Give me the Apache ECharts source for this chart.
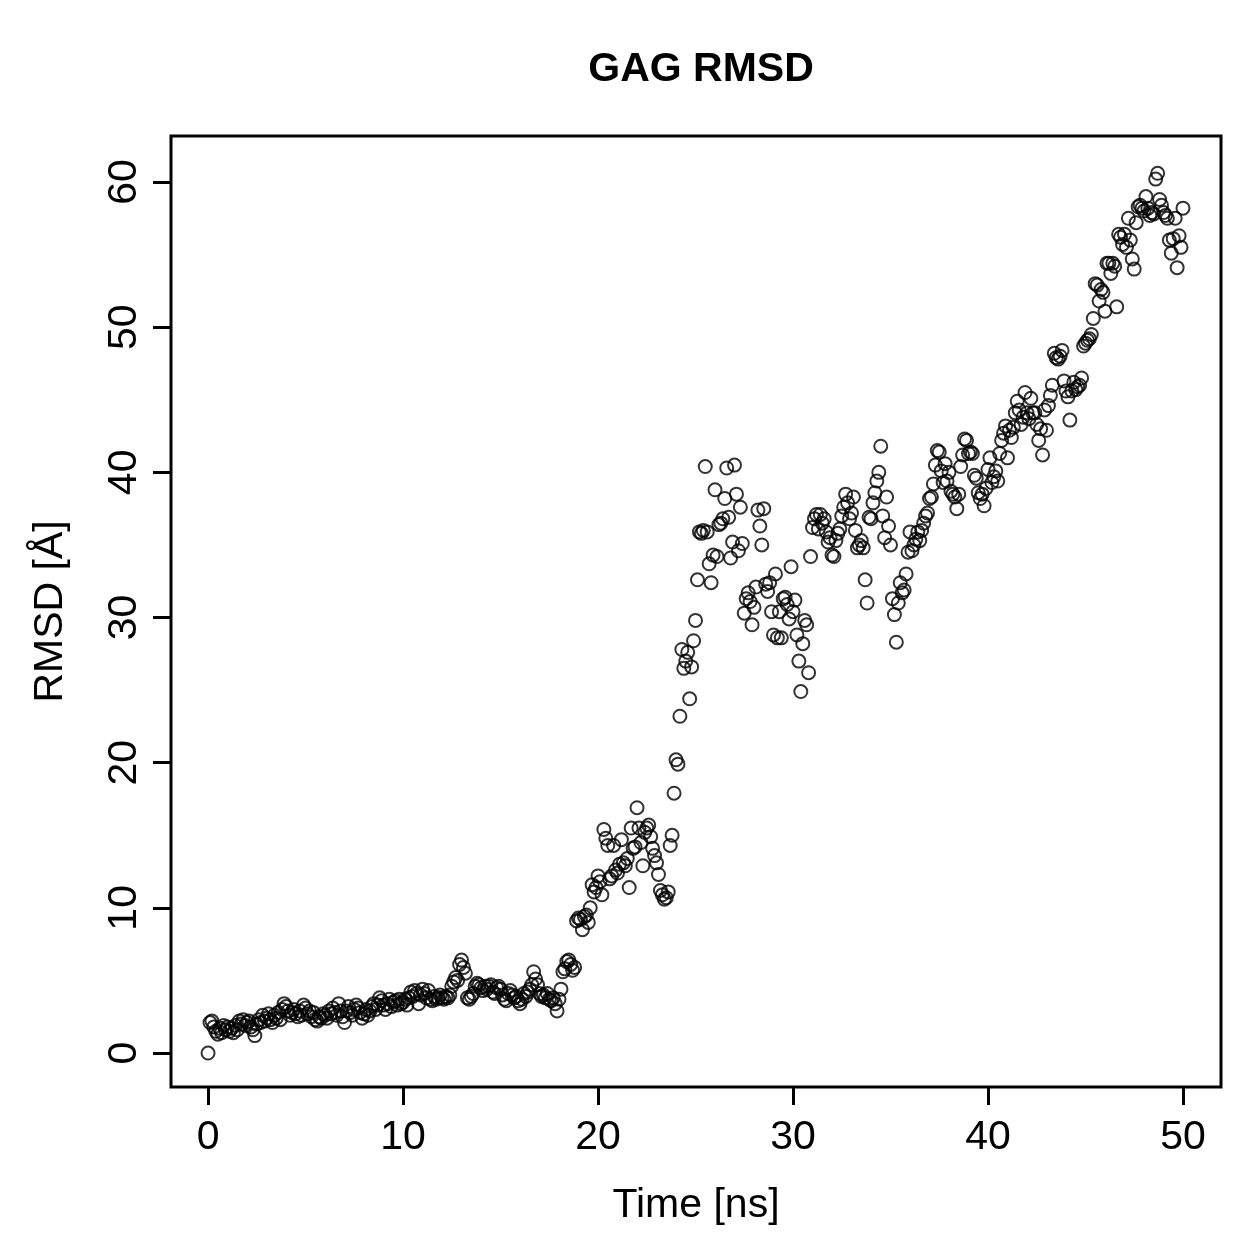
<!DOCTYPE html>
<html>
<head>
<meta charset="utf-8">
<script src="https://cdn.jsdelivr.net/npm/echarts@6/dist/echarts.min.js"></script>
<style>
  html, body { margin: 0; padding: 0; background: #fff; }
  #main { width: 1259px; height: 1259px; }
</style>
</head>
<body>
<div id="main"></div>
<script>
// RMSD trace, one value every 0.1 ns (blocks of 10 ns)
var timeStepNs = 0.1;
var rmsd0to10 = [
  0.0, 2.1, 2.2, 1.8, 1.5, 1.3, 1.7, 1.4, 1.9, 1.6,
  1.8, 1.5, 1.7, 1.4, 1.9, 1.6, 2.2, 2.0, 2.3, 1.9,
  2.1, 2.2, 1.8, 1.6, 1.2, 2.0, 2.3, 2.1, 2.6, 2.2,
  2.4, 2.7, 2.3, 2.1, 2.6, 2.4, 2.8, 2.3, 3.0, 3.4,
  3.2, 2.9, 2.6, 2.8, 3.0, 2.7, 2.5, 2.9, 2.6, 3.3,
  3.1, 2.7, 2.9, 2.5, 2.8, 2.3, 2.2, 2.5, 2.4, 2.7,
  2.6, 2.4, 2.9, 2.7, 3.1, 2.8, 2.6, 3.4, 2.9, 2.5,
  2.1, 2.9, 3.2, 2.8, 2.6, 3.0, 3.3, 3.1, 2.8, 2.4,
  2.7, 3.0, 2.6, 2.9, 3.2, 3.4, 3.0, 3.3, 3.8, 3.6,
  3.3, 3.0, 3.4, 3.7, 3.2, 3.5, 3.6, 3.3, 3.7, 3.4
];
var rmsd10to20 = [
  3.5, 3.7, 3.3, 3.8, 4.2, 3.9, 4.3, 4.1, 3.4, 4.0,
  4.4, 4.1, 3.8, 4.3, 3.7, 3.6, 3.9, 3.7, 3.8, 4.0,
  3.8, 3.7, 3.9, 3.8, 4.0, 4.6, 4.9, 5.2, 5.0, 6.1,
  6.4, 5.9, 5.5, 3.8, 3.7, 3.9, 4.1, 4.6, 4.8, 4.7,
  4.5, 4.3, 4.6, 4.4, 4.6, 4.7, 4.2, 4.1, 4.5, 4.6,
  4.4, 4.0, 3.7, 3.6, 4.1, 4.3, 4.0, 3.8, 3.9, 3.6,
  3.4, 3.7, 4.1, 3.9, 4.2, 4.4, 4.7, 5.6, 5.1, 4.7,
  4.1, 3.9, 4.0, 3.8, 4.1, 3.7, 3.6, 3.8, 3.4, 2.9,
  3.7, 4.4, 5.6, 5.8, 6.3, 6.4, 6.1, 5.7, 5.9, 9.1,
  9.3, 9.2, 8.5, 9.4, 9.5, 9.0, 10.0, 11.6, 11.1, 11.4
];
var rmsd20to30 = [
  12.2, 11.8, 10.9, 15.4, 14.8, 14.3, 12.0, 12.2, 14.3, 12.6,
  12.4, 13.0, 14.7, 13.1, 12.9, 13.4, 11.4, 15.5, 14.1, 14.2,
  16.9, 15.5, 14.5, 12.9, 15.2, 15.5, 15.7, 14.9, 14.1, 13.6,
  13.1, 12.3, 11.2, 10.9, 10.6, 10.7, 11.1, 14.3, 15.0, 17.9,
  20.2, 19.9, 23.2, 27.8, 26.5, 27.0, 27.6, 24.4, 26.6, 28.4,
  29.8, 32.6, 35.9, 35.8, 36.0, 40.4, 35.9, 33.7, 32.4, 34.3,
  38.8, 34.2, 36.4, 36.5, 36.8, 38.2, 40.3, 36.9, 34.1, 35.2,
  40.5, 38.5, 34.6, 37.6, 35.1, 30.3, 31.3, 31.7, 31.1, 29.5,
  30.7, 32.1, 37.4, 36.3, 35.0, 37.5, 32.3, 31.8, 32.4, 30.4,
  28.8, 33.0, 28.6, 30.4, 28.6, 31.3, 31.4, 30.9, 29.9, 33.5
];
var rmsd30to40 = [
  30.4, 31.2, 28.8, 27.0, 24.9, 28.2, 29.8, 29.5, 26.2, 34.2,
  36.2, 36.8, 37.1, 36.1, 37.1, 36.5, 36.8, 35.9, 35.2, 35.5,
  34.3, 34.2, 35.3, 35.8, 36.1, 37.0, 37.6, 38.5, 37.9, 36.8,
  37.2, 38.3, 36.0, 34.8, 35.0, 35.3, 34.8, 32.6, 31.0, 36.9,
  36.8, 37.9, 38.6, 39.4, 40.0, 41.8, 37.0, 35.5, 38.3, 36.3,
  35.0, 31.3, 30.2, 28.3, 31.0, 32.4, 31.7, 31.9, 33.0, 34.5,
  35.9, 34.6, 35.0, 35.4, 35.9, 35.3, 36.0, 36.5, 37.0, 37.2,
  38.2, 38.3, 39.2, 40.5, 41.5, 41.4, 40.1, 39.3, 40.6, 39.4,
  40.0, 38.7, 38.5, 38.3, 37.5, 38.5, 40.4, 41.2, 42.3, 42.2,
  41.3, 41.4, 41.3, 39.8, 39.6, 38.6, 38.2, 38.5, 37.7, 38.9
];
var rmsd40to50 = [
  40.2, 41.0, 39.3, 39.7, 40.1, 39.4, 41.3, 42.2, 42.7, 43.2,
  41.0, 42.9, 42.4, 43.1, 44.1, 44.9, 44.3, 43.3, 43.8, 45.5,
  44.1, 43.7, 45.1, 44.1, 44.1, 43.3, 42.2, 43.0, 41.2, 44.3,
  42.9, 44.6, 45.3, 46.0, 48.2, 47.9, 47.8, 48.0, 48.4, 46.3,
  45.6, 45.2, 43.6, 45.6, 46.2, 45.7, 45.9, 46.0, 46.5, 48.7,
  48.9, 49.1, 49.2, 49.5, 50.6, 53.0, 52.9, 51.8, 52.6, 52.4,
  51.1, 54.4, 54.4, 53.7, 54.4, 54.2, 51.4, 56.4, 56.2, 55.7,
  56.4, 55.5, 57.5, 56.0, 54.7, 54.0, 57.2, 58.3, 58.4, 58.2,
  58.0, 59.0, 58.2, 57.7, 57.9, 57.8, 60.2, 60.6, 58.8, 58.4,
  57.9, 57.7, 57.5, 56.0, 55.1, 56.1, 57.5, 54.1, 56.3, 55.5,
  58.2
];
var xTicks = [0, 10, 20, 30, 40, 50];
var yTicks = [0, 10, 20, 30, 40, 50, 60];

var rmsd = [].concat(rmsd0to10, rmsd10to20, rmsd20to30, rmsd30to40, rmsd40to50);
var points = rmsd.map(function(v, i){ return [+(i * timeStepNs).toFixed(1), v]; });

var FONT = 'Liberation Sans, Arial, sans-serif';
var chart = echarts.init(document.getElementById('main'), null, { renderer: 'canvas' });
chart.setOption({
  backgroundColor: '#fff',
  animation: false,
  title: {
    text: 'GAG RMSD',
    left: 696, top: 44,
    textAlign: 'center',
    textStyle: { fontFamily: FONT, fontSize: 41, fontWeight: 'bold', color: '#000' }
  },
  grid: {
    left: 171, top: 136, width: 1050, height: 951,
    show: true, borderColor: '#000', borderWidth: 3, backgroundColor: 'transparent'
  },
  xAxis: {
    type: 'value', min: -1.9, max: 51.95,
    name: 'Time [ns]', nameLocation: 'middle', nameGap: 98,
    nameTextStyle: { fontFamily: FONT, fontSize: 41, color: '#000' },
    axisLine: { show: false, onZero: false },
    axisTick: { show: true, length: 18, customValues: xTicks, lineStyle: { color: '#000', width: 3 } },
    axisLabel: { customValues: xTicks, margin: 30, fontFamily: FONT, fontSize: 41, color: '#000' },
    splitLine: { show: false }
  },
  yAxis: {
    type: 'value', min: -2.34, max: 63.17,
    name: 'RMSD [Å]', nameLocation: 'middle', nameGap: 100,
    nameTextStyle: { fontFamily: FONT, fontSize: 41, color: '#000' },
    axisLine: { show: false, onZero: false },
    axisTick: { show: true, length: 18, customValues: yTicks, lineStyle: { color: '#000', width: 3 } },
    axisLabel: { customValues: yTicks, rotate: 90, margin: 26, fontFamily: FONT, fontSize: 41, color: '#000' },
    splitLine: { show: false }
  },
  series: [{
    type: 'scatter',
    data: points,
    symbol: 'circle',
    symbolSize: 13,
    itemStyle: { color: 'rgba(0,0,0,0)', borderColor: '#000', borderWidth: 2 }
  }]
});
</script>
</body>
</html>
